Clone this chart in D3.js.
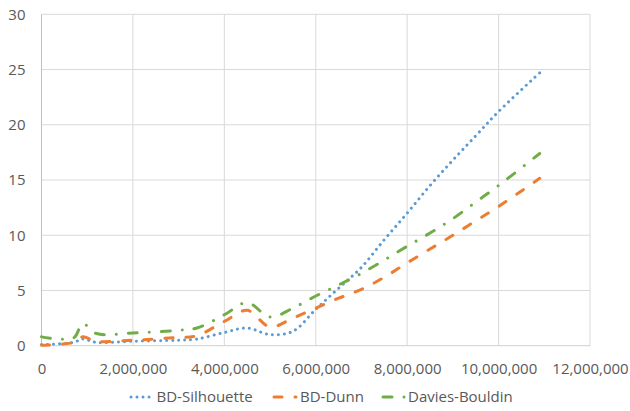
<!DOCTYPE html>
<html>
<head>
<meta charset="utf-8">
<script src="https://cdn.jsdelivr.net/npm/d3@7/dist/d3.min.js"></script>
<style>
  html, body { margin: 0; padding: 0; background: #fff; }
  svg text { font-family: "Open Sans", "Liberation Sans", sans-serif; fill: #595959; }
</style>
</head>
<body>
<svg id="chart" width="630" height="411"></svg>
<script>
// Data size (number of records) on the x axis
const sizes = [0, 700000, 900000, 1200000, 2000000, 3000000, 3400000, 4000000, 4500000,
  5000000, 5500000, 6000000, 6500000, 7000000, 7500000, 8000000, 8500000, 9000000, 9500000,
  10000000, 10900000];

// Runtime of each index
const silhouette = [0.1, 0.3, 0.6, 0.3, 0.4, 0.5, 0.6, 1.2, 1.6, 1.0, 1.3, 3.3, 5.2, 7.1, 9.6, 12.0, 14.5, 16.8, 19.0, 21.2, 24.7];
const dunn       = [0.05, 0.3, 0.8, 0.4, 0.5, 0.75, 0.9, 2.2, 3.2, 1.7, 2.5, 3.4, 4.3, 5.1, 6.2, 7.5, 8.75, 10.0, 11.3, 12.6, 15.15];
const davies     = [0.8, 0.7, 2.0, 1.1, 1.15, 1.4, 1.6, 2.8, 3.9, 2.6, 3.4, 4.5, 5.5, 6.55, 7.75, 9.0, 10.2, 11.5, 13.0, 14.5, 17.4];

const seriesNames = ["BD-Silhouette", "BD-Dunn", "Davies-Bouldin"];
const xTicks = [0, 2000000, 4000000, 6000000, 8000000, 10000000, 12000000];
const yTicks = [0, 5, 10, 15, 20, 25, 30];

const seriesStyle = [
  { color: "#5B9BD5", dash: "0.01 6" },
  { color: "#ED7D31", dash: "8 13" },
  { color: "#70AD47", dash: "9 12 0.01 12" }
];

const svg = d3.select("#chart");
const plotLeft = 41.5, plotRight = 590, plotTop = 14.3, plotBottom = 345.7;

const x = d3.scaleLinear().domain([0, 12000000]).range([plotLeft, plotRight]);
const y = d3.scaleLinear().domain([0, 30]).range([plotBottom, plotTop]);

// Gridlines
const grid = svg.append("g");
grid.selectAll("line.h").data(yTicks.slice(1)).join("line")
  .attr("class", "h")
  .attr("x1", plotLeft).attr("x2", plotRight)
  .attr("y1", d => y(d)).attr("y2", d => y(d))
  .attr("stroke", "#D9D9D9").attr("stroke-width", 1);
grid.selectAll("line.v").data(xTicks.slice(1)).join("line")
  .attr("class", "v")
  .attr("x1", d => x(d)).attr("x2", d => x(d))
  .attr("y1", plotTop).attr("y2", plotBottom)
  .attr("stroke", "#D9D9D9").attr("stroke-width", 1);

// Axis lines
svg.append("line").attr("x1", plotLeft).attr("x2", plotLeft).attr("y1", plotTop).attr("y2", plotBottom)
  .attr("stroke", "#BFBFBF").attr("stroke-width", 1);
svg.append("line").attr("x1", plotLeft).attr("x2", plotRight).attr("y1", plotBottom).attr("y2", plotBottom)
  .attr("stroke", "#D0D0D0").attr("stroke-width", 1);

// Axis labels
const xAxis = d3.axisBottom(x).tickValues(xTicks).tickFormat(d3.format(",")).tickSize(0).tickPadding(0);
const gx = svg.append("g").attr("transform", `translate(0,${plotBottom})`).call(xAxis);
gx.select(".domain").remove();
gx.selectAll("text").attr("dy", null).attr("y", 28.5).style("font-size", "15px").attr("fill", "#595959");

const yAxis = d3.axisLeft(y).tickValues(yTicks).tickSize(0).tickPadding(0);
const gy = svg.append("g").attr("transform", "translate(25.5,0)").call(yAxis);
gy.select(".domain").remove();
gy.selectAll("text").attr("x", 0).style("font-size", "15px").attr("fill", "#595959");

// Series lines (smoothed)
const allSeries = [silhouette, dunn, davies];
const line = d3.line()
  .x((d, i) => x(sizes[i]))
  .y(d => y(d))
  .curve(d3.curveCatmullRom.alpha(0.5));

svg.append("g").selectAll("path").data(allSeries).join("path")
  .attr("d", d => line(d))
  .attr("fill", "none")
  .attr("stroke", (d, i) => seriesStyle[i].color)
  .attr("stroke-width", 3)
  .attr("stroke-linecap", "round")
  .attr("stroke-dasharray", (d, i) => seriesStyle[i].dash);

// Legend
const legendItems = [
  { x0: 131, text: 156.5 },
  { x0: 274, text: 300 },
  { x0: 383, text: 408 }
];
const legendY = 397;
const lg = svg.append("g");
legendItems.forEach((it, i) => {
  lg.append("line")
    .attr("x1", it.x0).attr("x2", it.x0 + 22)
    .attr("y1", legendY).attr("y2", legendY)
    .attr("stroke", seriesStyle[i].color)
    .attr("stroke-width", 3)
    .attr("stroke-linecap", "round")
    .attr("stroke-dasharray", seriesStyle[i].dash);
  lg.append("text")
    .attr("x", it.text).attr("y", legendY)
    .attr("dy", "0.35em")
    .style("font-size", "15px")
    .text(seriesNames[i]);
});
</script>
</body>
</html>
